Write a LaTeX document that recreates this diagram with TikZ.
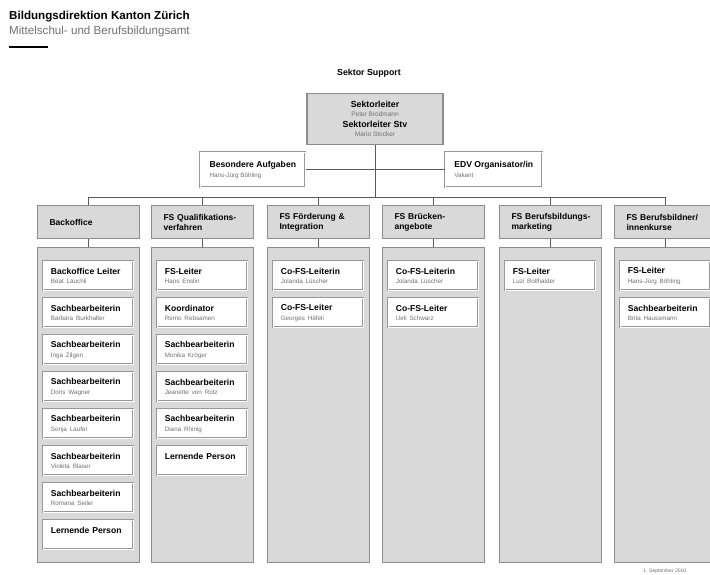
\documentclass[tikz,border=0pt]{standalone}
\usepackage{fontspec}
\setmainfont{Liberation Sans}
\definecolor{boxgray}{HTML}{D9D9D9}
\definecolor{edgegray}{HTML}{8C8C8C}
\definecolor{linegray}{HTML}{5A5A5A}
\definecolor{namegray}{HTML}{707070}
\newcommand\orgperson[5]{%
  \node[pbox, anchor=north west] (#1) at (#2,#3) {\textbf{#4}\\[0.5pt]{\fontsize{6.3}{7}\selectfont\color{namegray}#5}};}
\begin{document}
\begin{tikzpicture}[x=1pt,y=-1pt,
  body/.style={draw=edgegray, fill=boxgray, line width=0.9pt, minimum width=102pt, minimum height=315pt, anchor=north west, inner sep=0pt},
  head/.style={draw=edgegray, fill=boxgray, line width=1.1pt, minimum width=102pt, minimum height=33pt, anchor=north west, text width=78pt, align=left, inner xsep=12pt, font=\fontsize{8.5}{10}\selectfont\bfseries},
  pbox/.style={draw=edgegray!90, double=white, double distance=0.9pt, line width=0.6pt, fill=white, minimum width=90pt, minimum height=29pt, text width=75pt, align=left, inner xsep=7.5pt, font=\fontsize{8.6}{9}\selectfont},
  staff/.style={draw=edgegray!90, double=white, double distance=0.9pt, line width=0.6pt, fill=white, minimum height=35pt, anchor=north west, align=left, inner xsep=9pt, font=\fontsize{8.6}{9.5}\selectfont},
  conn/.style={draw=linegray, line width=0.8pt}]
\useasboundingbox (0,0) rectangle (710,575);

% title block
\node[anchor=west, font=\fontsize{11.6}{13}\selectfont\bfseries, inner sep=0pt] (t1) at (9,17) {Bildungsdirektion Kanton Zürich};
\node[anchor=west, font=\fontsize{11.6}{13}\selectfont, text=namegray, inner sep=0pt] (t2) at (9,32) {Mittelschul- und Berufsbildungsamt};
\coordinate (r1) at (9,47);
\coordinate (r2) at (48,47);
\draw[line width=2pt] (r1) -- (r2);

\node[font=\fontsize{8.8}{10}\selectfont\bfseries] (sektor) at (369,73) {Sektor Support};

% top box
\node[draw=edgegray, fill=boxgray, line width=1.1pt, minimum width=136pt, minimum height=51pt, align=center, font=\fontsize{8.8}{9.5}\selectfont, inner ysep=2pt] (top) at (375,119)
  {\textbf{Sektorleiter}\\[0pt]{\fontsize{6.5}{7.5}\selectfont\color{namegray}Peter Brodmann}\\[1pt]\textbf{Sektorleiter Stv}\\[0pt]{\fontsize{6.5}{7.5}\selectfont\color{namegray}Mario Stocker}};

% staff boxes
\node[staff, minimum width=105pt] (ba) at (200,152) {\textbf{Besondere Aufgaben}\\[0.5pt]{\fontsize{6.3}{7}\selectfont\color{namegray}Hans-Jürg Böhling}};
\node[staff, minimum width=90pt] (edv) at (445,152) {\textbf{EDV Organisator/in}\\[0.5pt]{\fontsize{6.3}{7}\selectfont\color{namegray}Vakant}};

% column headers
\node[head] (h1) at (37,205) {Backoffice};
\node[head] (h2) at (151,205) {\mbox{FS Qualifikations-}\\verfahren};
\node[head] (h3) at (267,205) {\mbox{FS Förderung \&}\\Integration};
\node[head] (h4) at (382,205) {\mbox{FS Brücken-}\\angebote};
\node[head] (h5) at (499,205) {\mbox{FS Berufsbildungs-}\\marketing};
\node[head] (h6) at (614,205) {\mbox{FS Berufsbildner/}\\innenkurse};

% column bodies
\node[body] (b1) at (37,247) {};
\node[body] (b2) at (151,247) {};
\node[body] (b3) at (267,247) {};
\node[body] (b4) at (382,247) {};
\node[body] (b5) at (499,247) {};
\node[body] (b6) at (614,247) {};

% connectors
\coordinate (bus) at (375,197);
\draw[conn] (top.south) -- (bus);
\draw[conn] (ba.east) -- (edv.west);
\draw[conn] (h1.north) -- (h1.north |- bus) -- (h6.north |- bus) -- (h6.north);
\foreach \i in {2,3,4,5} {\draw[conn] (h\i.north) -- (h\i.north |- bus);}
\foreach \i in {1,...,6} {\draw[conn] (h\i.south) -- (b\i.north);}

% column 1
\orgperson{p11}{43}{261}{Backoffice Leiter}{Beat Läuchli}
\orgperson{p12}{43}{298}{Sachbearbeiterin}{Barbara Burkhalter}
\orgperson{p13}{43}{335}{Sachbearbeiterin}{Inga Zilgen}
\orgperson{p14}{43}{372}{Sachbearbeiterin}{Doris Wagner}
\orgperson{p15}{43}{409}{Sachbearbeiterin}{Sonja Laufer}
\orgperson{p16}{43}{446}{Sachbearbeiterin}{Violeta Blaser}
\orgperson{p17}{43}{483}{Sachbearbeiterin}{Romana Seiler}
\orgperson{p18}{43}{520}{Lernende Person}{\phantom{X}}

% column 2
\orgperson{p21}{157}{261}{FS-Leiter}{Hans Enslin}
\orgperson{p22}{157}{298}{Koordinator}{Remo Rebsamen}
\orgperson{p23}{157}{335}{Sachbearbeiterin}{Monika Kröger}
\orgperson{p24}{157}{372}{Sachbearbeiterin}{Jeanette von Rotz}
\orgperson{p25}{157}{409}{Sachbearbeiterin}{Diana Rhinig}
\orgperson{p26}{157}{446}{Lernende Person}{\phantom{X}}

% column 3
\orgperson{p31}{273}{261}{Co-FS-Leiterin}{Jolanda Lüscher}
\orgperson{p32}{273}{298}{Co-FS-Leiter}{Georges Häfeli}

% column 4
\orgperson{p41}{388}{261}{Co-FS-Leiterin}{Jolanda Lüscher}
\orgperson{p42}{388}{298}{Co-FS-Leiter}{Ueli Schwarz}

% column 5
\orgperson{p51}{505}{261}{FS-Leiter}{Luzi Bollhalder}

% column 6
\orgperson{p61}{620}{261}{FS-Leiter}{Hans-Jürg Böhling}
\orgperson{p62}{620}{298}{Sachbearbeiterin}{Brita Haussmann}

% footer
\node[anchor=west, font=\fontsize{5}{6}\selectfont, text=namegray, inner sep=0pt] (foot) at (643,571) {1. September 2010};
\end{tikzpicture}
\end{document}
